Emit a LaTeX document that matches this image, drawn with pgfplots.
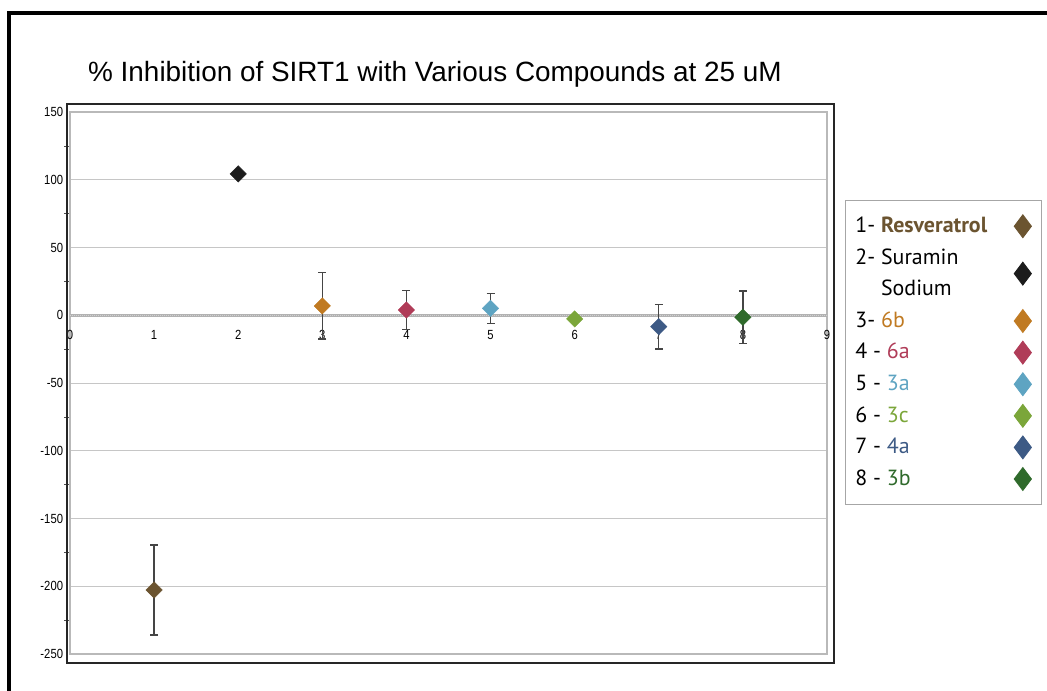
\documentclass[border=0pt]{standalone}
\usepackage{fontspec}
\usepackage{pgfplots}
\pgfplotsset{compat=1.18}
\setmainfont{Liberation Sans}
\newfontfamily\legendfont{PT Sans}
\definecolor{cA}{HTML}{6B5430}
\definecolor{cB}{HTML}{1C1C1C}
\definecolor{cC}{HTML}{C07A22}
\definecolor{cD}{HTML}{B03C58}
\definecolor{cE}{HTML}{5EA4C2}
\definecolor{cF}{HTML}{7BA63A}
\definecolor{cG}{HTML}{3D5A85}
\definecolor{cH}{HTML}{2F6A2B}
\definecolor{ebc}{HTML}{454545}
\pgfplotsset{
  pt/.style={only marks, color=#1, mark=square*, mark size=5.8bp, mark options={rotate=45, fill=#1, draw=#1}},
  eb/.style={error bars/.cd, y dir=both, y explicit,
     error bar style={ebc, line width=1.4bp},
     error mark options={ebc, line width=1.4bp, mark size=4bp, rotate=90}},
}
\begin{document}
\begin{tikzpicture}
\useasboundingbox (0,0) rectangle (1047bp,-691bp);
\draw[black, line width=4bp] (9bp,-691bp) -- (9bp,-13bp) -- (1047bp,-13bp);
\node[anchor=base west, font=\fontsize{28}{32}\selectfont, inner sep=0pt] at (88bp,-81bp) {\% Inhibition of SIRT1 with Various Compounds at 25 uM};
\begin{axis}[
  scale only axis, width=757bp, height=542bp,
  at={(70bp,-654bp)}, anchor=south west,
  xmin=0, xmax=9, ymin=-250, ymax=150,
  xtick={0,...,9}, ytick={-250,-200,...,150},
  minor ytick={-225,-175,...,125},
  ytick pos=left, xtick pos=bottom,
  axis line style={gray!55, line width=1.2bp},
  ymajorgrids, major grid style={gray!45, line width=0.8bp},
  major tick length=0pt, minor tick length=6bp, tick align=outside,
  minor tick style={black!70, line width=0.6bp},
  /pgf/number format/assume math mode=true,
  ticklabel style={font=\fontsize{13.3}{15}\selectfont, xscale=0.85, inner sep=0pt},
  yticklabel style={anchor=east, xshift=-8bp},
  xticklabel style={anchor=north, yshift=324bp},
  legend plot pos=right,
  legend image code/.code={\draw[#1, mark=diamond*, mark size=11.5bp, mark options={rotate=0}] plot coordinates {(0bp,0bp)};},
  legend style={at={(1.0238,0.8376)}, anchor=north west, draw=gray!70, line width=0.8bp,
     inner sep=10bp, font=\legendfont\fontsize{22}{31.6}\selectfont,
     nodes={inner sep=0pt, align=left, text height=22bp, text depth=9.6bp}, column sep=27bp, row sep=0bp},
  legend cell align=left,
]
\draw[gray!60, line width=3bp] (axis cs:0,0) -- (axis cs:9,0);
\draw[white!65!gray, line width=1bp, dash pattern=on 1bp off 1bp] (axis cs:0,0) -- (axis cs:9,0);
\addplot[pt=cA, eb] coordinates {(1,-202.7) +- (0,33.2)};
\addlegendentry{1- \textcolor{cA}{\textbf{Resveratrol}}}
\addplot[pt=cB] coordinates {(2,104.3)};
\addlegendentry[text height=53.6bp]{2- Suramin\\\phantom{2- }Sodium}
\addplot[pt=cC, eb] coordinates {(3,6.9) +- (0,24.5)};
\addlegendentry{3- \textcolor{cC}{6b}}
\addplot[pt=cD, eb] coordinates {(4,3.9) +- (0,14.5)};
\addlegendentry{4 - \textcolor{cD}{6a}}
\addplot[pt=cE, eb] coordinates {(5,5.1) +- (0,11.0)};
\addlegendentry{5 - \textcolor{cE}{3a}}
\addplot[pt=cF] coordinates {(6,-2.7)};
\addlegendentry{6 - \textcolor{cF}{3c}}
\addplot[pt=cG, eb] coordinates {(7,-8.4) +- (0,16.5)};
\addlegendentry{7 - \textcolor{cG}{4a}}
\addplot[pt=cH, eb] coordinates {(8,-1.5) +- (0,19.4)};
\addlegendentry{8 - \textcolor{cH}{3b}}
\end{axis}
\draw[black!85, line width=2.5bp] (67bp,-104bp) rectangle (834bp,-663bp);
\end{tikzpicture}
\end{document}
